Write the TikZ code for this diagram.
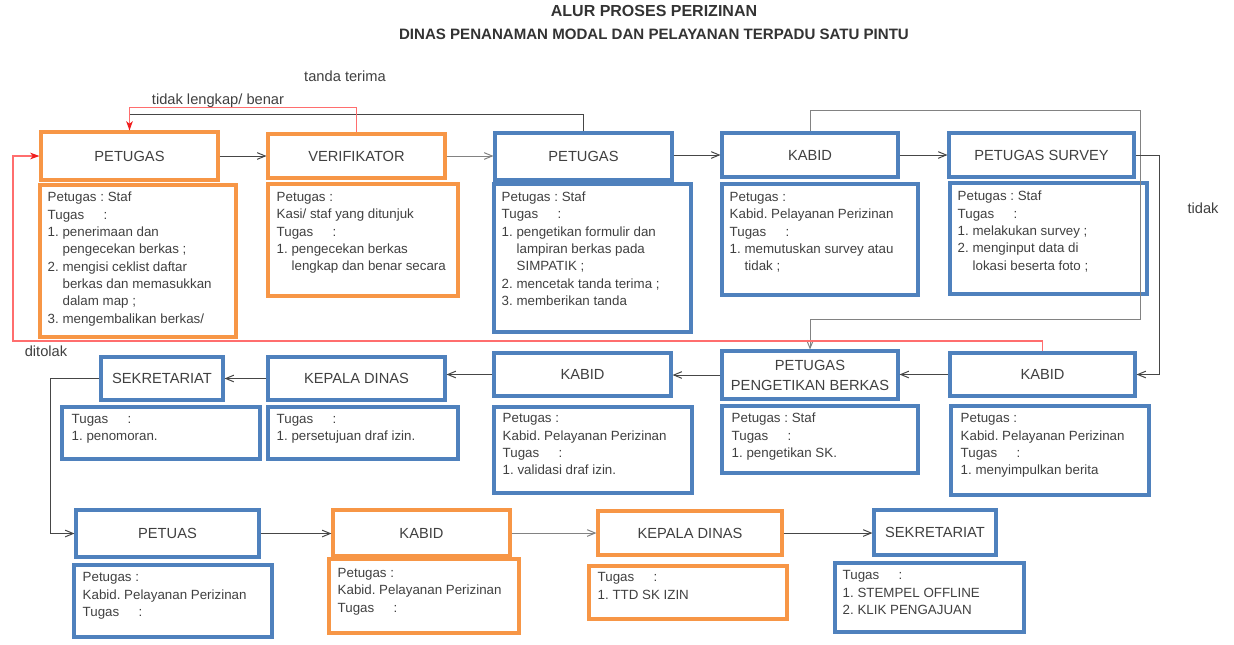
\documentclass[tikz,border=0pt]{standalone}
\usepackage{fontspec}
\setmainfont{Liberation Sans}
\usetikzlibrary{arrows.meta,fit}
\definecolor{orng}{RGB}{247,150,70}
\definecolor{blu}{RGB}{79,129,189}
\definecolor{txt}{RGB}{64,64,64}
\definecolor{ttl}{RGB}{51,51,51}
\definecolor{lnk}{RGB}{70,70,70}
\definecolor{lnklight}{RGB}{130,130,130}
\definecolor{rdline}{RGB}{255,110,110}
\definecolor{rdtip}{RGB}{240,30,30}
\newcommand\tgsline{\makebox[4.2em][l]{Tugas}:}
\newcommand\hind{\hspace*{1.12em}}
\frenchspacing
\begin{document}
\begin{tikzpicture}[x=0.75pt,y=-0.75pt,
  headbox/.style={draw=#1, line width=2.3pt, inner sep=0pt, font=\fontsize{11}{15}\selectfont, text=txt, align=center},
  hsize/.style 2 args={minimum width=#1*0.75pt, minimum height=#2*0.75pt},
  detbox/.style={draw=#1, line width=2.3pt, inner sep=0pt},
  dettext/.style={anchor=north west, inner sep=0pt, font=\fontsize{10}{13}\selectfont, text=txt, align=left},
  lbl/.style={inner sep=0pt, font=\fontsize{11}{13}\selectfont, text=txt},
  conn/.style={draw=#1, line width=0.75pt, -{Straight Barb[length=6pt,width=5pt]}},
  conn/.default=lnk,
  plainconn/.style={draw=lnk, line width=0.75pt},
  redconn/.style={draw=rdline, line width=0.9pt, -{Stealth[length=7pt,width=5pt,inset=2pt,color=rdtip]}},
]
\useasboundingbox (0,0) rectangle (1234,644);

% title
\node[inner sep=0pt, font=\fontsize{12}{14}\selectfont\bfseries, text=ttl] (title1) at (654,11) {ALUR PROSES PERIZINAN};
\node[inner sep=0pt, font=\fontsize{11.3}{14}\selectfont\bfseries, text=ttl] (title2) at (654,34) {DINAS PENANAMAN MODAL DAN PELAYANAN TERPADU SATU PINTU};

% row 1 heads
\node[headbox=orng, hsize={177}{48}] (p1) at (129.5,156) {PETUGAS};
\node[headbox=orng, hsize={177}{44}] (v) at (356.5,156) {VERIFIKATOR};
\node[headbox=blu, hsize={177}{47}] (p3) at (583.5,156.5) {PETUGAS};
\node[headbox=blu, hsize={176}{44}] (k1) at (810,155) {KABID};
\node[headbox=blu, hsize={185}{44}] (ps) at (1041.5,155) {PETUGAS SURVEY};

% row 1 details
\node[detbox=orng, fit={(40,185)(236,337)}] (d1) {};
\node[dettext] (t1) at ([shift={(9,6)}]d1.north west) {\strut Petugas : Staf\\ \tgsline\\ 1. penerimaan dan\\ \hind pengecekan berkas ;\\ 2. mengisi ceklist daftar\\ \hind berkas dan memasukkan\\ \hind dalam map ;\\ 3. mengembalikan berkas/};
\node[detbox=orng, fit={(268,184)(458,296)}] (d2) {};
\node[dettext] (t2) at ([shift={(10,6.5)}]d2.north west) {\strut Petugas :\\ Kasi/ staf yang ditunjuk\\ \tgsline\\ 1. pengecekan berkas\\ \hind lengkap dan benar secara};
\node[detbox=blu, fit={(494,184)(691,332)}] (d3) {};
\node[dettext] (t3) at ([shift={(9,6.5)}]d3.north west) {\strut Petugas : Staf\\ \tgsline\\ 1. pengetikan formulir dan\\ \hind lampiran berkas pada\\ \hind SIMPATIK ;\\ 2. mencetak tanda terima ;\\ 3. memberikan tanda};
\node[detbox=blu, fit={(722,184)(918,295)}] (d4) {};
\node[dettext] (t4) at ([shift={(9,6.5)}]d4.north west) {\strut Petugas :\\ Kabid. Pelayanan Perizinan\\ \tgsline\\ 1. memutuskan survey atau\\ \hind tidak ;};
\node[detbox=blu, fit={(950,183)(1147,294)}] (d5) {};
\node[dettext] (t5) at ([shift={(9,7)}]d5.north west) {\strut Petugas : Staf\\ \tgsline\\ 1. melakukan survey ;\\ 2. menginput data di\\ \hind lokasi beserta foto ;};

% row 2 heads
\node[headbox=blu, hsize={122}{43}] (s1) at (162,378.5) {SEKRETARIAT};
\node[headbox=blu, hsize={177}{43}] (kd1) at (356.5,378.5) {KEPALA DINAS};
\node[headbox=blu, hsize={177}{43}] (k3) at (582.5,374.5) {KABID};
\node[headbox=blu, hsize={176}{48}] (ppb) at (810,375) {PETUGAS\\PENGETIKAN BERKAS};
\node[headbox=blu, hsize={185}{43}] (k2) at (1042.5,374.5) {KABID};

% row 2 details
\node[detbox=blu, fit={(62,407)(260,459)}] (ds1) {};
\node[dettext] (ts1) at ([shift={(11,5.5)}]ds1.north west) {\strut\tgsline\\ 1. penomoran.};
\node[detbox=blu, fit={(268,407)(458,459)}] (dkd1) {};
\node[dettext] (tkd1) at ([shift={(10,5.5)}]dkd1.north west) {\strut\tgsline\\ 1. persetujuan draf izin.};
\node[detbox=blu, fit={(494,407)(692,493)}] (dk3) {};
\node[dettext] (tk3) at ([shift={(10,5)}]dk3.north west) {\strut Petugas :\\ Kabid. Pelayanan Perizinan\\ \tgsline\\ 1. validasi draf izin.};
\node[detbox=blu, fit={(722,406)(918,473)}] (dppb) {};
\node[dettext] (tppb) at ([shift={(11,6)}]dppb.north west) {\strut Petugas : Staf\\ \tgsline\\ 1. pengetikan SK.};
\node[detbox=blu, fit={(951,406)(1149,495)}] (dk2) {};
\node[dettext] (tk2) at ([shift={(11,6)}]dk2.north west) {\strut Petugas :\\ Kabid. Pelayanan Perizinan\\ \tgsline\\ 1. menyimpulkan berita};

% row 3 heads
\node[headbox=blu, hsize={183}{47}] (pt) at (167.5,533.5) {PETUAS};
\node[headbox=orng, hsize={177}{46}] (k4) at (421.5,533) {KABID};
\node[headbox=orng, hsize={184}{44}] (kd2) at (690,533) {KEPALA DINAS};
\node[headbox=blu, hsize={122}{45}] (s2) at (935,532.5) {SEKRETARIAT};

% row 3 details
\node[detbox=blu, fit={(74,565)(272,637)}] (dpt) {};
\node[dettext] (tpt) at ([shift={(10,6)}]dpt.north west) {\strut Petugas :\\ Kabid. Pelayanan Perizinan\\ \tgsline};
\node[detbox=orng, fit={(329,559)(519,633)}] (dk4) {};
\node[dettext] (tk4) at ([shift={(10,7.5)}]dk4.north west) {\strut Petugas :\\ Kabid. Pelayanan Perizinan\\ \tgsline};
\node[detbox=orng, fit={(589,566)(787,619)}] (dkd2) {};
\node[dettext] (tkd2) at ([shift={(10,5)}]dkd2.north west) {\strut\tgsline\\ 1. TTD SK IZIN};
\node[detbox=blu, fit={(835,563)(1024,632)}] (ds2) {};
\node[dettext] (ts2) at ([shift={(9,6)}]ds2.north west) {\strut\tgsline\\ 1. STEMPEL OFFLINE\\ 2. KLIK PENGAJUAN};

% labels
\node[lbl] (ltanda) at (345,76) {tanda terima};
\node[lbl] (ltidaklb) at (218,101) {tidak lengkap/ benar};
\node[lbl] (lditolak) at (46,351) {ditolak};
\node[lbl] (ltidak) at (1203,208) {tidak};

% helper coordinates
\coordinate (c1) at (1140,110);
\coordinate (c2) at (1140,319);
\coordinate (c3) at (13,341);

% row 1 connectors
\draw[conn] (p1.east) -- (p1.east -| v.west);
\draw[conn=lnklight] (v.east) -- (v.east -| p3.west);
\draw[conn] (k1.west -| p3.east) -- (k1.west);
\draw[conn] (k1.east) -- (k1.east -| ps.west);
\draw[plainconn] (p3.north) -- ++(0,-17) -| (p1.north);
\draw[redconn] (v.north) -- ++(0,-25) -| (p1.north);
\draw[conn=lnklight] (k1.north) |- (c1) -- (c2) -| (ppb.north);
\draw[conn] (ps.east) -- ++(24,0) |- (k2.east);
\draw[redconn] (k2.north) |- (c3) |- (p1.west);

% row 2 connectors
\draw[conn] (k2.west) -- (k2.west -| ppb.east);
\draw[conn] (ppb.west) -- (ppb.west -| k3.east);
\draw[conn] (k3.west) -- (k3.west -| kd1.east);
\draw[conn] (kd1.west) -- (kd1.west -| s1.east);
\draw[conn] (s1.west) -- ++(-49,0) |- (pt.west);

% row 3 connectors
\draw[conn] (pt.east) -- (pt.east -| k4.west);
\draw[conn=lnklight] (k4.east) -- (k4.east -| kd2.west);
\draw[conn] (kd2.east) -- (kd2.east -| s2.west);
\end{tikzpicture}
\end{document}
